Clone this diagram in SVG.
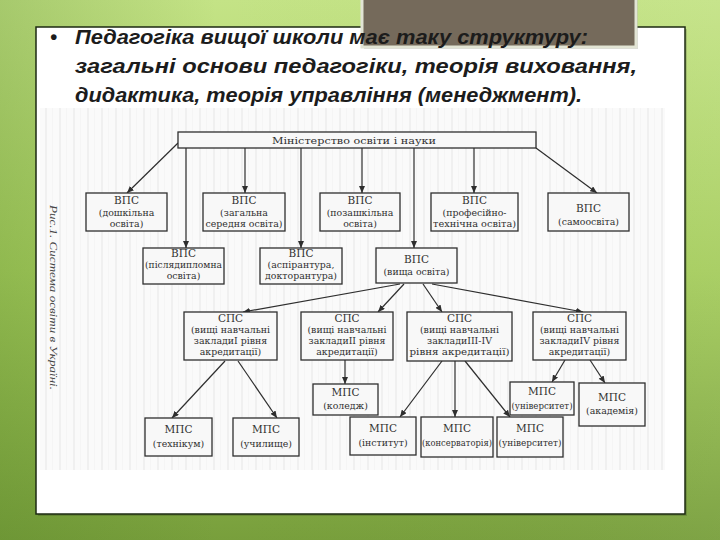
<svg xmlns="http://www.w3.org/2000/svg" width="720" height="540" viewBox="0 0 720 540">
<defs>
<linearGradient id="bg" x1="0" y1="0" x2="0" y2="1">
<stop offset="0" stop-color="#c4e386"/>
<stop offset="0.5" stop-color="#a6cd5e"/>
<stop offset="1" stop-color="#789f3c"/>
</linearGradient>
<linearGradient id="bgx" x1="0" y1="0" x2="1" y2="0">
<stop offset="0" stop-color="#4f7d22" stop-opacity="0.25"/>
<stop offset="0.3" stop-color="#4f7d22" stop-opacity="0"/>
<stop offset="1" stop-color="#ffffff" stop-opacity="0.05"/>
</linearGradient>
<pattern id="scan" x="0" y="0" width="14" height="10" patternUnits="userSpaceOnUse">
<rect x="0" y="0" width="14" height="10" fill="#f7f7f7"/>
<rect x="3" y="0" width="2" height="10" fill="#e6e6e6"/>
<rect x="10" y="0" width="1" height="10" fill="#eeeeee"/>
</pattern>
<marker id="ah" markerWidth="7" markerHeight="6" refX="7" refY="3" orient="auto" markerUnits="userSpaceOnUse">
<path d="M0,0 L7,3 L0,6 z" fill="#2e2e2e"/>
</marker>
<style>
.title{font-family:"Liberation Sans","DejaVu Sans",sans-serif;font-weight:bold;font-style:italic;font-size:20px;fill:#1c1c1c}
.box{fill:#f8f8f8;stroke:#2f2f2f;stroke-width:1.3}
.h{font-family:"DejaVu Serif","Liberation Serif",serif;font-size:10.5px;fill:#303030;text-anchor:middle}
.t{font-family:"DejaVu Serif","Liberation Serif",serif;font-size:9.4px;fill:#303030;text-anchor:middle}
.c line{stroke:#2e2e2e;stroke-width:1.2;marker-end:url(#ah)}
.cap{font-family:"Liberation Serif","DejaVu Serif",serif;font-style:italic;font-size:11px;fill:#444}
</style>
</defs>
<rect x="0" y="0" width="720" height="540" fill="url(#bg)"/>
<rect x="0" y="0" width="720" height="540" fill="url(#bgx)"/>
<rect x="38" y="29" width="649" height="487" fill="#000" opacity="0.15"/>
<rect x="36" y="27" width="649" height="487" fill="#ffffff" stroke="#1d2a12" stroke-width="1.5"/>
<rect x="40" y="108" width="625" height="362" fill="url(#scan)" opacity="0.6"/>
<rect x="364" y="-2" width="274" height="51" fill="#000" opacity="0.15"/>
<rect x="362" y="-4" width="274" height="51" fill="#756a5b" stroke="#e2e4d4" stroke-width="3"/>
<g id="title">
<text class="title" x="50" y="44">•</text>
<text class="title" x="75" y="44" textLength="513" lengthAdjust="spacingAndGlyphs">Педагогіка вищої школи має таку структуру:</text>
<text class="title" x="75" y="73" textLength="562" lengthAdjust="spacingAndGlyphs">загальні основи педагогіки, теорія виховання,</text>
<text class="title" x="75" y="102" textLength="507" lengthAdjust="spacingAndGlyphs">дидактика, теорія управління (менеджмент).</text>
</g>
<text class="cap" transform="translate(50,205) rotate(90)" textLength="185" lengthAdjust="spacingAndGlyphs">Рис.1. Система освіти в Україні.</text>
<g class="c" id="connectors">
<line x1="178" y1="143" x2="127" y2="193"/>
<line x1="186" y1="148" x2="186" y2="248"/>
<line x1="245" y1="148" x2="245" y2="193"/>
<line x1="301" y1="148" x2="301" y2="248"/>
<line x1="362" y1="148" x2="362" y2="193"/>
<line x1="414" y1="148" x2="414" y2="248"/>
<line x1="474" y1="148" x2="474" y2="193"/>
<line x1="536" y1="148" x2="597" y2="193"/>
<line x1="400" y1="284" x2="243" y2="312"/>
<line x1="404" y1="284" x2="378" y2="312"/>
<line x1="423" y1="284" x2="442" y2="312"/>
<line x1="432" y1="284" x2="583" y2="312"/>
<line x1="225" y1="361" x2="172" y2="418"/>
<line x1="238" y1="361" x2="277" y2="418"/>
<line x1="345" y1="360" x2="345" y2="384"/>
<line x1="442" y1="361" x2="400" y2="417"/>
<line x1="455" y1="361" x2="455" y2="417"/>
<line x1="465" y1="361" x2="510" y2="417"/>
<line x1="565" y1="360" x2="552" y2="382"/>
<line x1="590" y1="360" x2="605" y2="383"/>
</g>
<g id="ministry"><rect class="box" x="178" y="132" width="358" height="16"/><text class="t" x="354" y="144" font-size="10" textLength="164" lengthAdjust="spacingAndGlyphs">Міністерство освіти і науки</text></g>
<g id="vps-preschool"><rect class="box" x="86" y="193" width="81" height="38"/><text class="h" x="126.5" y="204">ВПС</text><text class="t" x="126.5" y="216">(дошкільна</text><text class="t" x="126.5" y="227">освіта)</text></g>
<g id="vps-secondary"><rect class="box" x="203" y="193" width="82" height="38"/><text class="h" x="244" y="204">ВПС</text><text class="t" x="244" y="216">(загальна</text><text class="t" x="244" y="227">середня освіта)</text></g>
<g id="vps-outofschool"><rect class="box" x="320" y="193" width="80" height="38"/><text class="h" x="360" y="204">ВПС</text><text class="t" x="360" y="216">(позашкільна</text><text class="t" x="360" y="227">освіта)</text></g>
<g id="vps-vocational"><rect class="box" x="431" y="193" width="87" height="38"/><text class="h" x="474.5" y="204">ВПС</text><text class="t" x="474.5" y="216">(професійно-</text><text class="t" x="474.5" y="227" textLength="83" lengthAdjust="spacingAndGlyphs">технічна освіта)</text></g>
<g id="vps-self"><rect class="box" x="548" y="193" width="81" height="38"/><text class="h" x="588.5" y="212" font-size="11.5">ВПС</text><text class="t" x="588.5" y="225">(самоосвіта)</text></g>
<g id="vps-postgrad"><rect class="box" x="143" y="248" width="81" height="36"/><text class="h" x="183.5" y="257">ВПС</text><text class="t" x="183.5" y="268" textLength="77" lengthAdjust="spacingAndGlyphs">(післядипломна</text><text class="t" x="183.5" y="279">освіта)</text></g>
<g id="vps-aspirant"><rect class="box" x="260" y="248" width="82" height="36"/><text class="h" x="301" y="257">ВПС</text><text class="t" x="301" y="268">(аспірантура,</text><text class="t" x="301" y="279">докторантура)</text></g>
<g id="vps-higher"><rect class="box" x="376" y="248" width="81" height="35"/><text class="h" x="416.5" y="263">ВПС</text><text class="t" x="416.5" y="275">(вища освіта)</text></g>
<g id="sps-1"><rect class="box" x="184" y="312" width="93" height="48"/><text class="h" x="230.5" y="322">СПС</text><text class="t" x="230.5" y="333">(вищі навчальні</text><text class="t" x="230.5" y="344">закладиІ рівня</text><text class="t" x="230.5" y="355">акредитації)</text></g>
<g id="sps-2"><rect class="box" x="301" y="312" width="92" height="48"/><text class="h" x="347" y="322">СПС</text><text class="t" x="347" y="333">(вищі навчальні</text><text class="t" x="347" y="344">закладиІІ рівня</text><text class="t" x="347" y="355">акредитації)</text></g>
<g id="sps-34"><rect class="box" x="407" y="312" width="105" height="49"/><text class="h" x="459.5" y="322">СПС</text><text class="t" x="459.5" y="333">(вищі навчальні</text><text class="t" x="459.5" y="344">закладиІІІ-ІV</text><text class="t" x="459.5" y="355" textLength="100" lengthAdjust="spacingAndGlyphs">рівня акредитації)</text></g>
<g id="sps-4"><rect class="box" x="533" y="312" width="93" height="48"/><text class="h" x="579.5" y="322">СПС</text><text class="t" x="579.5" y="333">(вищі навчальні</text><text class="t" x="579.5" y="344">закладиІV рівня</text><text class="t" x="579.5" y="355">акредитації)</text></g>
<g id="mps-college"><rect class="box" x="313" y="384" width="65" height="31"/><text class="h" x="345.5" y="396" font-size="11.5">МПС</text><text class="t" x="345.5" y="409">(коледж)</text></g>
<g id="mps-university-top"><rect class="box" x="510" y="382" width="64" height="33"/><text class="h" x="542" y="395" font-size="11.5">МПС</text><text class="t" x="542" y="409" textLength="61" lengthAdjust="spacingAndGlyphs">(університет)</text></g>
<g id="mps-academy"><rect class="box" x="579" y="383" width="66" height="43"/><text class="h" x="612" y="401" font-size="11.5">МПС</text><text class="t" x="612" y="414">(академія)</text></g>
<g id="mps-technikum"><rect class="box" x="145" y="418" width="67" height="38"/><text class="h" x="178.5" y="433" font-size="11.5">МПС</text><text class="t" x="178.5" y="447">(технікум)</text></g>
<g id="mps-uchylyshche"><rect class="box" x="233" y="418" width="66" height="38"/><text class="h" x="266" y="433" font-size="11.5">МПС</text><text class="t" x="266" y="447">(училище)</text></g>
<g id="mps-institute"><rect class="box" x="350" y="417" width="66" height="38"/><text class="h" x="383" y="432" font-size="11.5">МПС</text><text class="t" x="383" y="446">(інститут)</text></g>
<g id="mps-conservatory"><rect class="box" x="421" y="417" width="72" height="40"/><text class="h" x="457" y="432" font-size="11.5">МПС</text><text class="t" x="457" y="446" textLength="70" lengthAdjust="spacingAndGlyphs">(консерваторія)</text></g>
<g id="mps-university"><rect class="box" x="497" y="417" width="66" height="40"/><text class="h" x="530" y="432" font-size="11.5">МПС</text><text class="t" x="530" y="446" textLength="63" lengthAdjust="spacingAndGlyphs">(університет)</text></g>
</svg>
